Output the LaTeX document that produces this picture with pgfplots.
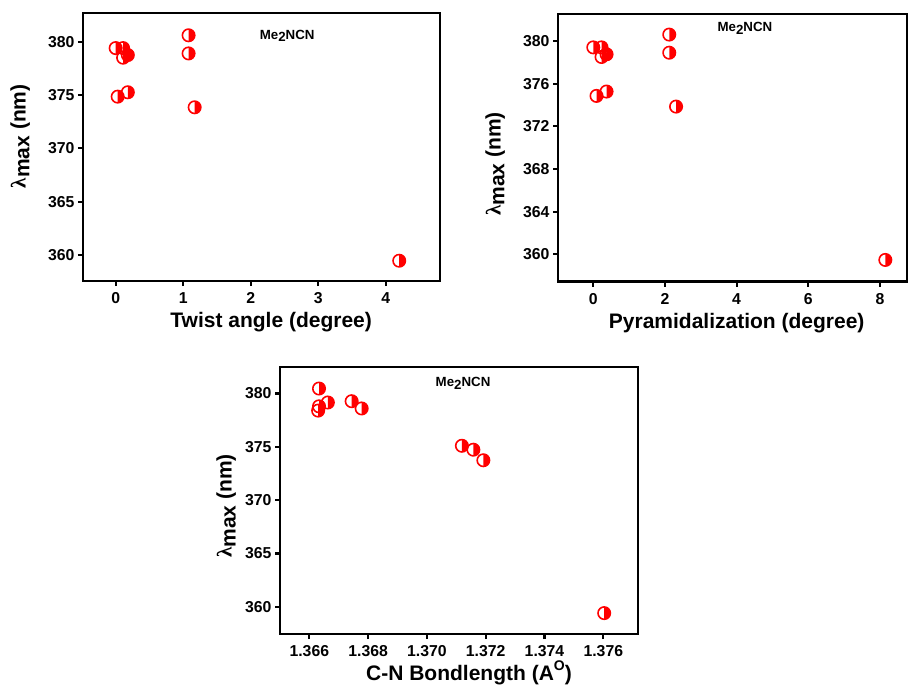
\documentclass[border=0pt]{standalone}
\usepackage{pgfplots}
\pgfplotsset{compat=1.18}
\usepackage{fontspec}
\setmainfont{Liberation Sans}
\newfontfamily\lamfont{Liberation Serif}

\pgfdeclareplotmark{halfcirc}{%
  \pgfpathmoveto{\pgfqpoint{0pt}{\pgfplotmarksize}}%
  \pgfpatharc{90}{-90}{\pgfplotmarksize}%
  \pgfpathclose
  \pgfusepathqfill
  \pgfpathcircle{\pgfpointorigin}{\pgfplotmarksize}%
  \pgfusepathqstroke
}

\pgfplotsset{panel/.style={
  scale only axis,
  axis line style={line width=2.6pt},
  tick pos=left, tick align=outside,
  major tick length=5pt,
  every tick/.style={black, line width=2.2pt},
  ticklabel style={font=\fontsize{15.8}{15.8}\selectfont\bfseries},
  xticklabel style={yshift=-3pt},
  /pgf/number format/assume math mode=true,
  label style={font=\fontsize{21}{21}\selectfont\bfseries},
  ylabel={{\lamfont λ}\raisebox{-0.35ex}{max} (nm)},
  scaled ticks=false,
}}
\pgfplotsset{pts/.style={only marks, mark=halfcirc, mark size=6.2pt, mark options={draw=red, fill=red, line width=1.6pt}}}
\newcommand{\mename}{\fontsize{13.3}{13.3}\selectfont\bfseries Me\raisebox{-0.35ex}{2}NCN}

\begin{document}
\begin{tikzpicture}
\useasboundingbox (0,0) rectangle (910pt,686pt);

% Panel 1: Twist angle
\begin{axis}[panel,
  at={(83pt,405pt)}, anchor=south west,
  width=357pt, height=268pt,
  xmin=-0.484, xmax=4.804, ymin=357.57, ymax=382.69,
  xtick={0,1,2,3,4}, ytick={360,365,370,375,380},
  xlabel={Twist angle (degree)},
  xlabel style={at={(axis description cs:0.527,0)}, anchor=center, yshift=-41pt},
  ylabel style={at={(axis description cs:-0.176,0.54)}, anchor=center},
]
\addplot[pts] table {
x y
0.00 379.40
0.11 379.40
0.18 378.75
0.11 378.50
1.08 380.60
1.08 378.90
0.03 374.85
0.18 375.26
1.17 373.85
4.20 359.47
};
\node at (axis cs:2.54,380.53) {\mename};
\end{axis}

% Panel 2: Pyramidalization
\begin{axis}[panel,
  at={(558pt,404.3pt)}, anchor=south west,
  width=349pt, height=267.7pt,
  xmin=-0.985, xmax=8.755, ymin=357.43, ymax=382.53,
  xtick={0,2,4,6,8}, ytick={360,364,368,372,376,380},
  xlabel={Pyramidalization (degree)},
  xlabel style={at={(axis description cs:0.512,0)}, anchor=center, yshift=-41pt},
  ylabel style={at={(axis description cs:-0.18,0.44)}, anchor=center},
]
\addplot[pts] table {
x y
0.00 379.40
0.23 379.40
0.37 378.75
0.23 378.50
2.12 380.60
2.12 378.90
0.09 374.85
0.37 375.26
2.31 373.85
8.15 359.47
};
\node at (axis cs:4.23,381.2) {\mename};
\end{axis}

% Panel 3: C-N bond length
\begin{axis}[panel,
  at={(280pt,52pt)}, anchor=south west,
  width=358pt, height=267pt,
  xmin=1.365003, xmax=1.37718, ymin=357.44, ymax=382.49,
  xtick={1.366,1.368,1.370,1.372,1.374,1.376}, ytick={360,365,370,375,380},
  xticklabel style={/pgf/number format/.cd, fixed, fixed zerofill, precision=3},
  xlabel={C-N Bondlength (A\raisebox{0.9ex}{\fontsize{14}{14}\selectfont O})},
  xlabel style={at={(axis description cs:0.528,0)}, anchor=center, yshift=-39pt},
  ylabel style={at={(axis description cs:-0.15,0.48)}, anchor=center},
]
\addplot[pts] table {
x y
1.36633 380.47
1.36633 378.80
1.36630 378.40
1.36663 379.16
1.36744 379.28
1.36778 378.60
1.37119 375.10
1.37158 374.73
1.37192 373.74
1.37603 359.40
};
\node at (axis cs:1.37123,380.96) {\mename};
\end{axis}
\end{tikzpicture}
\end{document}
